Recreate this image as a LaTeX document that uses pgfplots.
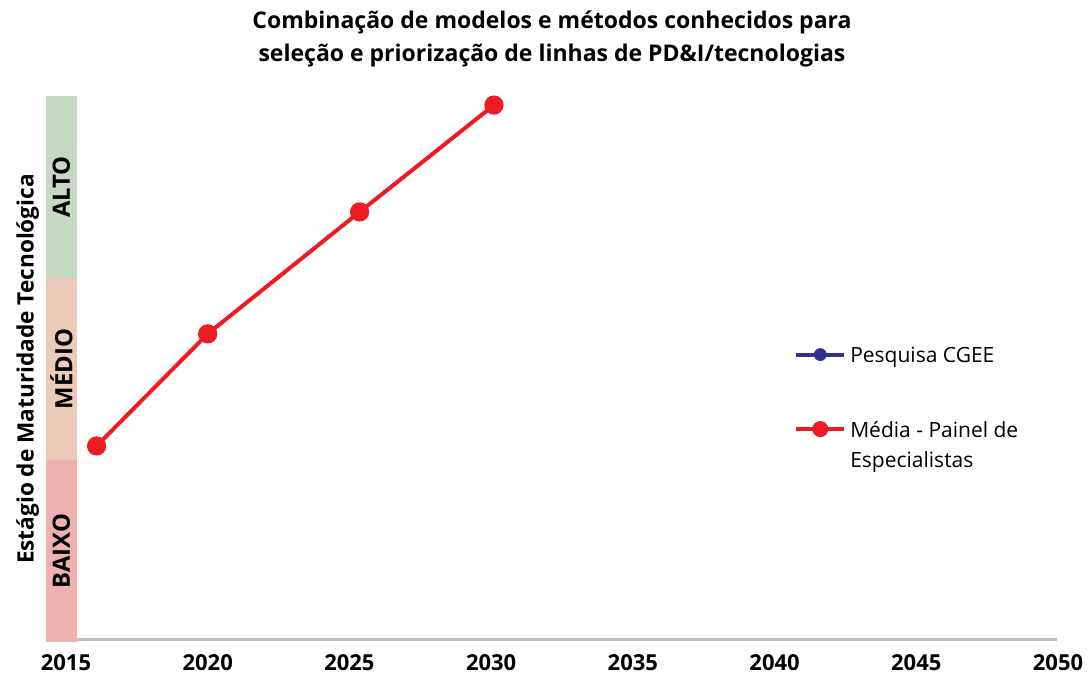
\documentclass[border=0pt]{standalone}
\usepackage{pgfplots}
\pgfplotsset{compat=1.18}
\usepackage{fontspec}
\setmainfont{Open Sans}
\setsansfont{Open Sans}

\definecolor{bandalto}{HTML}{C7D8C4}
\definecolor{bandmedio}{HTML}{EBCBB7}
\definecolor{bandbaixo}{HTML}{EDB2B0}
\definecolor{serieverm}{HTML}{ED1C24}
\definecolor{serieazul}{HTML}{2E3192}
\definecolor{eixocinza}{HTML}{BEBEC2}

\begin{document}
\begin{tikzpicture}[x=0.5pt,y=0.5pt]
  \useasboundingbox (0,0) rectangle (1088,678);
  \begin{axis}[
    at={(23pt,18pt)}, anchor=south west,
    scale only axis,
    width=506pt, height=273pt,
    xmin=2014.295, xmax=2050,
    ymin=0, ymax=3,
    axis line style={draw=none},
    major tick length=0pt,
    xtick={2015,2020,...,2050},
    ytick=\empty,
    /pgf/number format/assume math mode=true,
    xticklabel style={font=\bfseries\fontsize{11}{12}\selectfont, inner ysep=0pt, yshift=-6pt},
    xticklabel={\pgfmathprintnumber[1000 sep={}]{\tick}},
    ylabel={\bfseries\fontsize{11.3}{13}\selectfont Estágio de Maturidade Tecnológica},
    ylabel style={yshift=0pt},
    title style={align=center, font=\bfseries\fontsize{11.5}{16.5}\selectfont, yshift=5pt},
    title={Combinação de modelos e métodos conhecidos para\\seleção e priorização de linhas de PD\&I/tecnologias},
    clip=false,
    legend style={draw=none, fill=none, at={(0.739,0.548)}, anchor=north west,
      inner sep=0pt, row sep=0pt, column sep=0pt,
      font=\fontsize{10.5}{15}\selectfont,
      cells={anchor=base west, inner xsep=0pt, inner ysep=0pt}},
    legend image code/.code={
      \draw[#1, mark=none, line width=2pt] (0pt,4pt) -- (24pt,4pt);
      \draw[#1, only marks, mark size=3pt] plot coordinates {(12pt,4pt)};
      \path (0pt,-4pt);
    },
  ]
    % faixas de maturidade
    \addplot[draw=none, fill=bandbaixo, forget plot] coordinates {(2014.295,0) (2015.387,0) (2015.387,1) (2014.295,1)} -- cycle;
    \addplot[draw=none, fill=bandmedio, forget plot] coordinates {(2014.295,1) (2015.387,1) (2015.387,2) (2014.295,2)} -- cycle;
    \addplot[draw=none, fill=bandalto, forget plot] coordinates {(2014.295,2) (2015.387,2) (2015.387,3) (2014.295,3)} -- cycle;
    \node[rotate=90, font=\bfseries\fontsize{11.9}{13}\selectfont] at (axis cs:2014.84,0.5) {BAIXO};
    \node[rotate=90, font=\bfseries\fontsize{11.9}{13}\selectfont] at (axis cs:2014.84,1.5) {MÉDIO};
    \node[rotate=90, font=\bfseries\fontsize{11.9}{13}\selectfont] at (axis cs:2014.84,2.5) {ALTO};
    % linha do eixo x
    \addplot[eixocinza, line width=1.5pt, forget plot] coordinates {(2015.387,0.016) (2049.95,0.016)};
    % series
    \addlegendimage{serieazul,
      legend image code/.code={
        \draw[serieazul, line width=2pt] (0pt,4pt) -- (24pt,4pt);
        \fill[serieazul] (12pt,4pt) circle (3pt);
        \path (0pt,-27pt);
      }}
    \addlegendentry{Pesquisa CGEE}
    \addplot[serieverm, line width=2pt, mark=*, mark size=3.8pt] coordinates {
      (2016.08,1.077) (2020.00,1.693) (2025.36,2.363) (2030.10,2.950)
    };
    \addlegendentry{Média - Painel de}
    \addlegendimage{empty legend}
    \addlegendentry{Especialistas}
  \end{axis}
\end{tikzpicture}
\end{document}
